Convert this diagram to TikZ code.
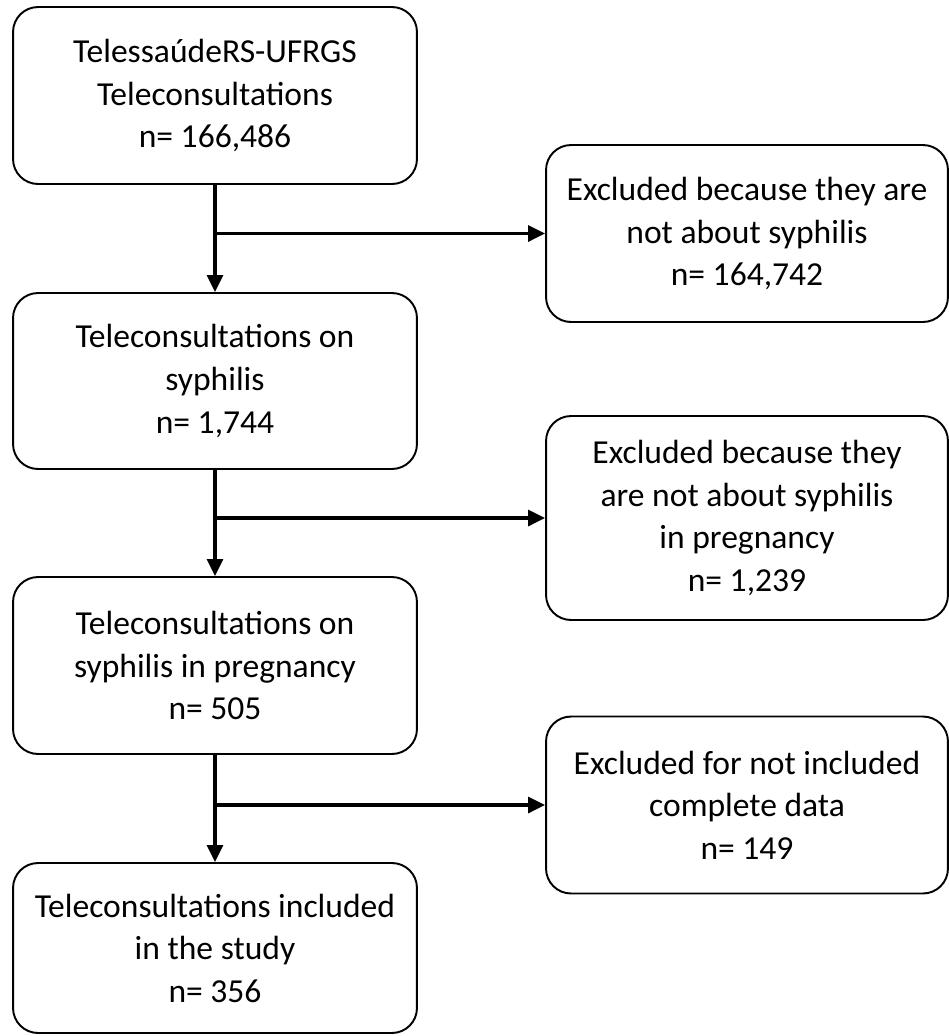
\documentclass[tikz,border=0pt]{standalone}
\usepackage{fontspec}
\setmainfont{Carlito}
\usetikzlibrary{arrows.meta,calc}

\begin{document}
\begin{tikzpicture}[x=0.02cm,y=-0.02cm,
  box/.style={draw=black,line width=1.1pt,rounded corners=0.5cm,fill=white,
    align=center,inner sep=0pt,minimum width=8.08cm,
    font=\fontsize{19.1}{24.2}\selectfont},
  flow/.style={line width=1.8pt,-{Triangle[length=0.34cm,width=0.32cm]}}]
\useasboundingbox (0,0) rectangle (949,1036);

% main column
\node[box,minimum height=3.54cm] (tele) at (215,95.5)
  {TelessaúdeRS-UFRGS\\Teleconsultations\\n= 166,486};
\node[box,minimum height=3.52cm] (syph) at (215,381)
  {Teleconsultations on\\syphilis\\n= 1,744};
\node[box,minimum height=3.54cm] (preg) at (215,665.5)
  {Teleconsultations on\\syphilis in pregnancy\\n= 505};
\node[box,minimum height=3.40cm] (study) at (215,948)
  {Teleconsultations included\\in the study\\n= 356};

% exclusions
\node[box,minimum width=8.04cm,minimum height=3.54cm] (excA) at (747,233.5)
  {Excluded because they are\\not about syphilis\\n= 164,742};
\node[box,minimum width=8.04cm,minimum height=4.08cm] (excB) at (747,518)
  {Excluded because they\\are not about syphilis\\in pregnancy\\n= 1,239};
\node[box,minimum width=8.04cm,minimum height=3.54cm] (excC) at (747,805)
  {Excluded for not included\\complete data\\n= 149};

\draw[flow] (tele.south) -- (syph.north);
\draw[flow] (syph.south) -- (preg.north);
\draw[flow] (preg.south) -- (study.north);

\draw[flow] (tele.south |- excA.west) -- (excA.west);
\draw[flow] (syph.south |- excB.west) -- (excB.west);
\draw[flow] (preg.south |- excC.west) -- (excC.west);

\end{tikzpicture}
\end{document}
